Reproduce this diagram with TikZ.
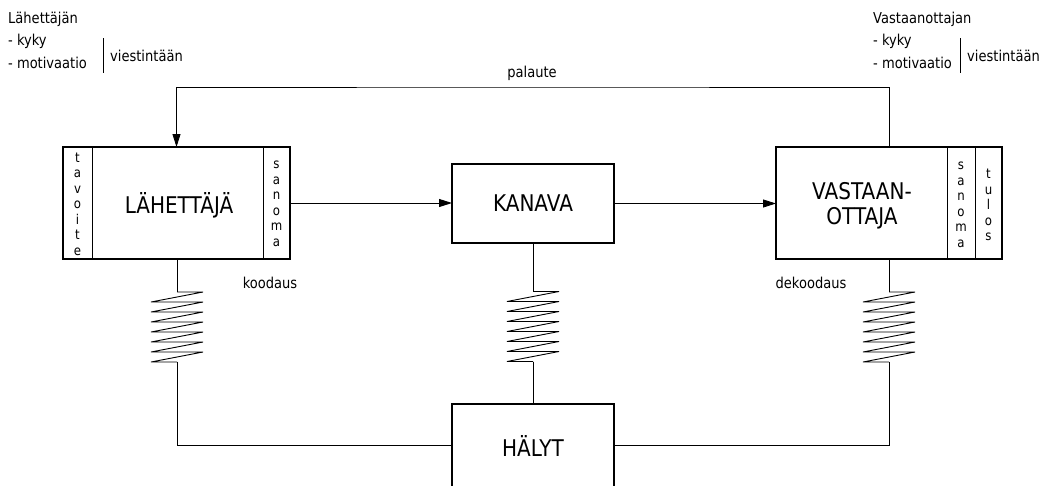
\documentclass[tikz,border=0pt]{standalone}
\usepackage{fontspec}
\setmainfont[FakeStretch=0.87]{DejaVu Sans}
\usetikzlibrary{arrows.meta,calc}

\begin{document}
\begin{tikzpicture}[x=1pt,y=-1pt,
  box/.style={draw,line width=2pt,inner sep=0pt,outer sep=0pt,
    font=\fontsize{23}{28}\selectfont},
  wire/.style={line width=0.9pt},
  flow/.style={wire,-{Triangle[length=13pt,width=8pt]}},
  letters/.style={align=center,inner sep=0pt,font=\fontsize{13.5}{15.5}\selectfont},
  note/.style={anchor=west,inner sep=0pt,font=\fontsize{15}{17}\selectfont},
  coil/.pic={\draw[wire] (0,0) -- (26,0)
      \foreach \k in {1,...,6}{ -- (-26,10*\k) -- (26,10*\k)}
      -- (-26,70) -- (0,70);}
]
\useasboundingbox (0,0) rectangle (1056,485);

% main blocks
\node[box,minimum width=227pt,minimum height=112pt] (snd) at (176.5,203) {};
\node[inner sep=0pt,font=\fontsize{23}{28}\selectfont] (sndlabel) at (179,205) {LÄHETTÄJÄ};
\node[box,minimum width=162pt,minimum height=79pt] (kan) at (533,203.5) {KANAVA};
\node[box,minimum width=226pt,minimum height=112pt] (rcv) at (889,203) {};
\node[inner sep=0pt,align=center,font=\fontsize{23}{25}\selectfont] (rcvlabel) at (862,206) {VASTAAN-\\OTTAJA};
\node[box,minimum width=162pt,minimum height=83pt] (hal) at (533,445.5) {HÄLYT};

% side strips of the sender and receiver
\draw[wire] ($(snd.north west)+(29,0)$) -- ($(snd.south west)+(29,0)$);
\draw[wire] ($(snd.north east)+(-27,0)$) -- ($(snd.south east)+(-27,0)$);
\draw[wire] ($(rcv.north east)+(-55,0)$) -- ($(rcv.south east)+(-55,0)$);
\draw[wire] ($(rcv.north east)+(-27,0)$) -- ($(rcv.south east)+(-27,0)$);
\node[letters] (tavoite) at (77.5,204) {t\\a\\v\\o\\i\\t\\e};
\node[letters] (sanoma1) at (276.5,204) {s\\a\\n\\o\\m\\a};
\node[letters] (sanoma2) at (961,205) {s\\a\\n\\o\\m\\a};
\node[letters] (tulos) at (988.5,205) {t\\u\\l\\o\\s};

% message flow
\draw[flow] (snd.east) -- (snd.east -| kan.west);
\draw[flow] (kan.east) -- (kan.east -| rcv.west);

% feedback loop
\coordinate (fb) at (533,87);
\draw[flow] (rcv.north) |- (fb) -| (snd.north);
\node[note,anchor=center] (palaute) at (532,73) {palaute};

% noise couplings through the coils
\coordinate (sLt) at ($(snd.south)+(0.5,33)$);
\coordinate (sLb) at ($(sLt)+(0,70)$);
\coordinate (sCt) at ($(kan.south)+(0,48.5)$);
\coordinate (sCb) at ($(sCt)+(0,70)$);
\coordinate (sRt) at ($(rcv.south)+(0,33)$);
\coordinate (sRb) at ($(sRt)+(0,70)$);
\draw[wire] (snd.south -| sLt) -- (sLt);
\draw[wire] (kan.south) -- (sCt);
\draw[wire] (rcv.south) -- (sRt);
\pic at (sLt) {coil};
\pic at (sCt) {coil};
\pic at (sRt) {coil};
\draw[wire] (sLb) |- (hal.west);
\draw[wire] (sCb) -- (hal.north);
\draw[wire] (sRb) |- (hal.east);

\node[note,anchor=center] (koodaus) at (270,283) {koodaus};
\node[note,anchor=center] (dekoodaus) at (811,283) {dekoodaus};

% sender notes
\node[note] (sndtitle) at (8,19) {Lähettäjän};
\node[note] (sndkyky) at (8,41) {- kyky};
\node[note] (sndmot) at (8,63) {- motivaatio};
\coordinate (sbarT) at (103,38);
\coordinate (sbarB) at (103,73);
\draw[wire] (sbarT) -- (sbarB);
\node[note] (sndvi) at (110,56) {viestintään};

% receiver notes
\node[note] (rcvtitle) at (873,19) {Vastaanottajan};
\node[note] (rcvkyky) at (873,41) {- kyky};
\node[note] (rcvmot) at (873,63) {- motivaatio};
\coordinate (rbarT) at (960,38);
\coordinate (rbarB) at (960,73);
\draw[wire] (rbarT) -- (rbarB);
\node[note] (rcvvi) at (967,56) {viestintään};
\end{tikzpicture}
\end{document}
